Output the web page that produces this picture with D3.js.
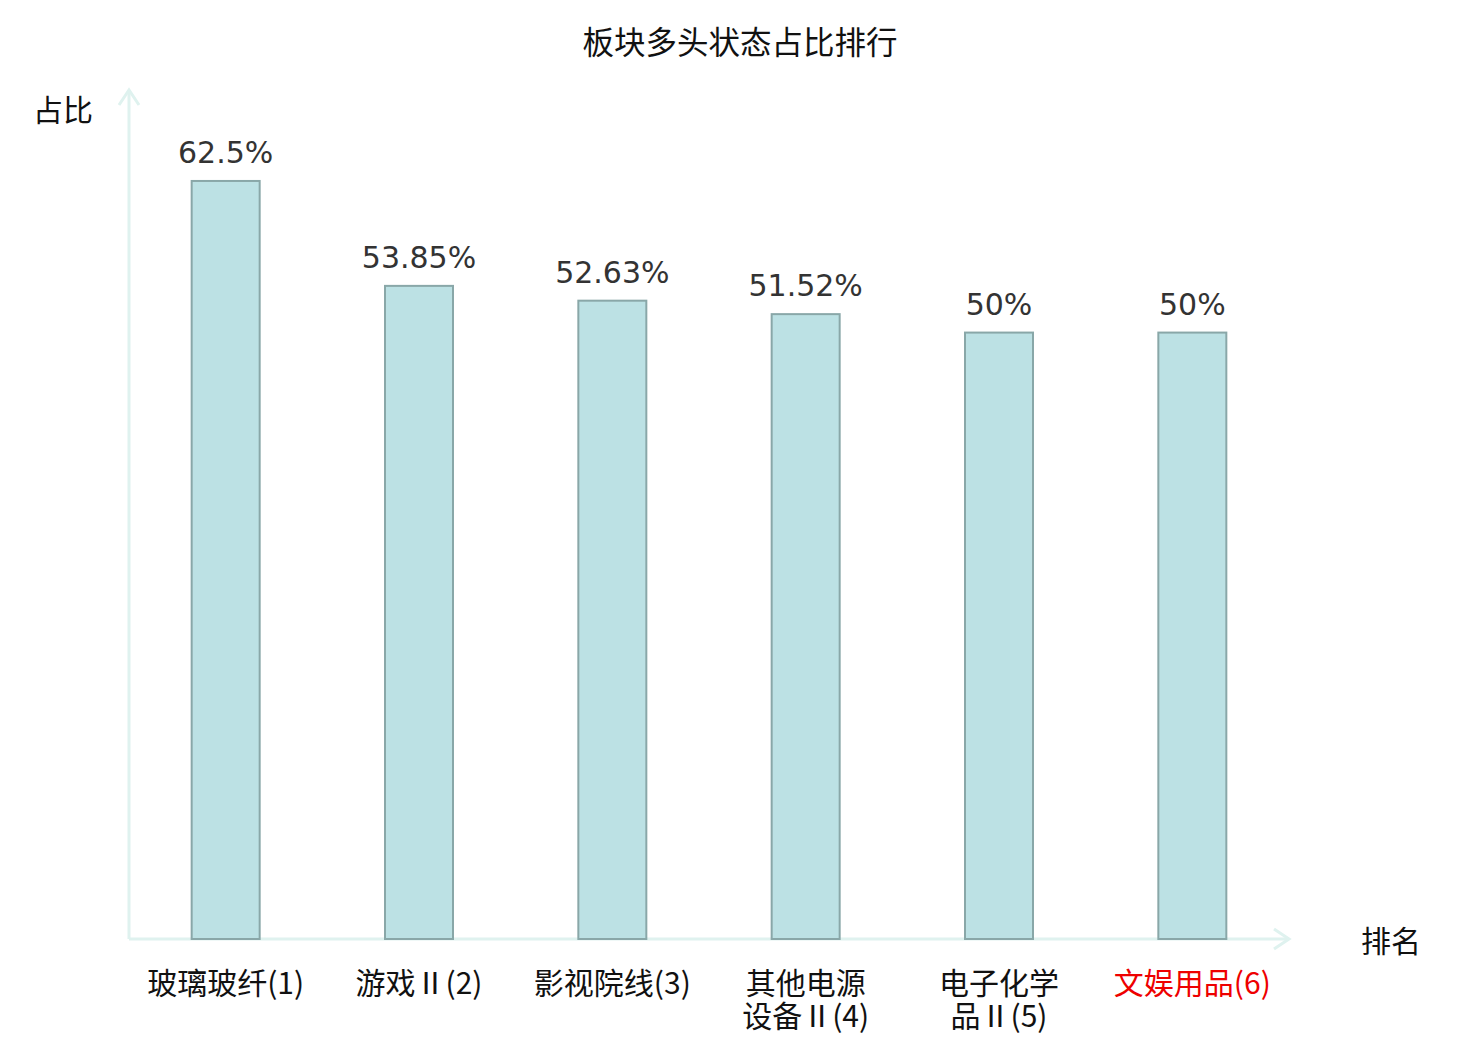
<!DOCTYPE html>
<html>
<head>
<meta charset="utf-8">
<script src="https://cdn.jsdelivr.net/npm/d3@7"></script>
<style>
  body { margin: 0; background: #fff; }
  svg { display: block; }
</style>
</head>
<body>
<svg id="chart" width="1480" height="1040"></svg>
<script>
const categories = [
  ["玻璃玻纤(1)"],
  ["游戏Ⅱ(2)"],
  ["影视院线(3)"],
  ["其他电源", "设备Ⅱ(4)"],
  ["电子化学", "品Ⅱ(5)"],
  ["文娱用品(6)"]
];
const values = [62.5, 53.85, 52.63, 51.52, 50, 50];
const valueLabels = ["62.5%", "53.85%", "52.63%", "51.52%", "50%", "50%"];
const highlighted = [false, false, false, false, false, true];

const svg = d3.select("#chart");
const cjk = "'Noto Sans CJK SC', 'Noto Sans', sans-serif";

const x0 = 129, x1 = 1289, yBase = 939, yTop = 90;
const axisColor = "#dff2ef";

const x = d3.scaleBand()
  .domain(d3.range(values.length))
  .range([x0, x1]);

const y = d3.scaleLinear()
  .domain([0, 70])
  .range([yBase, yTop]);

const barW = 68;

// title
svg.append("text")
  .attr("x", 740).attr("y", 54)
  .attr("text-anchor", "middle")
  .attr("font-family", cjk)
  .attr("font-size", 31.5)
  .attr("fill", "#111")
  .text("板块多头状态占比排行");

// axis lines
svg.append("line")
  .attr("x1", x0).attr("y1", yBase).attr("x2", x0).attr("y2", yTop)
  .attr("stroke", axisColor).attr("stroke-width", 3);
svg.append("path")
  .attr("d", `M${x0 - 10},${yTop + 15} L${x0},${yTop} L${x0 + 10},${yTop + 15}`)
  .attr("fill", "none").attr("stroke", axisColor).attr("stroke-width", 3);

svg.append("line")
  .attr("x1", x0).attr("y1", yBase).attr("x2", x1).attr("y2", yBase)
  .attr("stroke", axisColor).attr("stroke-width", 3);
svg.append("path")
  .attr("d", `M${x1 - 15},${yBase - 10} L${x1},${yBase} L${x1 - 15},${yBase + 10}`)
  .attr("fill", "none").attr("stroke", axisColor).attr("stroke-width", 3);

// axis names
svg.append("text")
  .attr("x", 63).attr("y", 121)
  .attr("text-anchor", "middle")
  .attr("font-family", cjk).attr("font-size", 30).attr("fill", "#111")
  .text("占比");
svg.append("text")
  .attr("x", 1391).attr("y", 952)
  .attr("text-anchor", "middle")
  .attr("font-family", cjk).attr("font-size", 30).attr("fill", "#111")
  .text("排名");

// bars
svg.selectAll("rect.bar")
  .data(values)
  .enter()
  .append("rect")
  .attr("class", "bar")
  .attr("x", (d, i) => x(i) + x.bandwidth() / 2 - barW / 2)
  .attr("y", d => y(d))
  .attr("width", barW)
  .attr("height", d => yBase - y(d))
  .attr("fill", "#bce1e4")
  .attr("stroke", "#89a7a8")
  .attr("stroke-width", 2);

// value labels
svg.selectAll("text.val")
  .data(values)
  .enter()
  .append("text")
  .attr("class", "val")
  .attr("x", (d, i) => x(i) + x.bandwidth() / 2)
  .attr("y", d => y(d) - 18)
  .attr("text-anchor", "middle")
  .attr("font-family", "'DejaVu Sans', sans-serif")
  .attr("font-size", 30)
  .attr("fill", "#333")
  .text((d, i) => valueLabels[i]);

// category labels, one text per line
const lines = categories.flatMap((d, i) => d.map((t, j) => ({ t, i, j })));
svg.selectAll("text.cat")
  .data(lines)
  .enter()
  .append("text")
  .attr("class", "cat")
  .attr("x", d => x(d.i) + x.bandwidth() / 2)
  .attr("y", d => 994 + d.j * 33)
  .attr("text-anchor", "middle")
  .attr("font-family", cjk)
  .attr("font-size", 30)
  .attr("fill", d => highlighted[d.i] ? "#ee0000" : "#111")
  .text(d => d.t);
</script>
</body>
</html>
